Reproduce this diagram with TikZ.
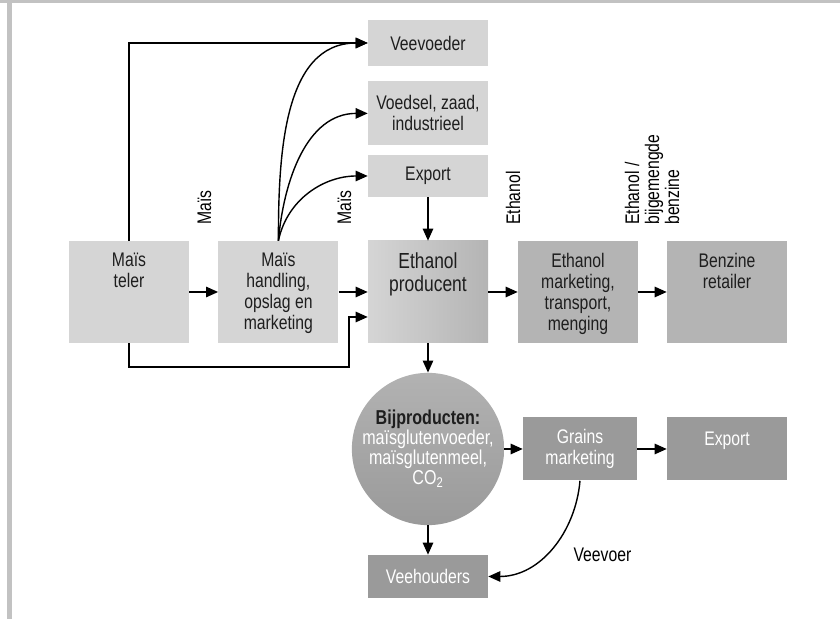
\documentclass[tikz,border=0pt]{standalone}
\usepackage{fontspec}
\setmainfont[FakeStretch=0.8]{Liberation Sans}
\usepackage{tikz}
\usetikzlibrary{arrows.meta,calc,positioning}
\definecolor{rand}{HTML}{C2C2C2}
\definecolor{licht}{HTML}{D5D5D5}
\definecolor{midden}{HTML}{B4B4B4}
\definecolor{donker}{HTML}{9A9A9A}
\definecolor{bolboven}{HTML}{B2B2B2}
\definecolor{tekst}{HTML}{1E1E1E}

\begin{document}
\begin{tikzpicture}[
  pijl/.style={line width=1pt, -{Triangle[length=3mm,width=2.6mm]}},
  basis/.style={rectangle, inner sep=0pt, minimum width=3cm, text=tekst, font=\fontsize{14}{14.9}\selectfont},
  blok/.style={basis, align=center, fill=licht},
  rij/.style={basis, minimum height=2.55cm,
    execute at begin node={\begin{minipage}[t][1.95cm][t]{3cm}\centering},
    execute at end node={\end{minipage}}},
  grijs/.style={basis, align=center, fill=donker, text=white, minimum height=1.575cm},
  stroom/.style={rotate=90, anchor=west, align=left, inner sep=0pt, font=\fontsize{14}{14.2}\selectfont}
]
% kader
\useasboundingbox (0,0) rectangle (21,15.475);
\fill[rand] (0,15.39) rectangle (21,15.475);
\fill[rand] (0.175,0) rectangle (0.3,15.475);

% afnemers bovenaan
\node[blok, minimum height=1.15cm] (veev) at (10.7,14.4) {Veevoeder};
\node[blok, minimum height=1.6cm] (voed) at (10.7,12.64) {Voedsel, zaad,\\industrieel};
\node[blok, minimum height=1.05cm] (expA) at (10.7,11.075) {Export};

% hoofdketen
\node[rij, fill=licht] (teler) at (3.225,8.175) {Maïs\\teler};
\node[rij, fill=licht] (handel) at (6.96,8.175) {Maïs\\handling,\\opslag en\\marketing};
\node[rij, left color=licht, right color=midden, font=\fontsize{15.5}{16}\selectfont] (prod) at (10.7,8.175) {Ethanol\\producent};
\node[rij, fill=midden] (emark) at (14.45,8.175) {Ethanol\\marketing,\\transport,\\menging};
\node[rij, fill=midden] (retail) at (18.175,8.175) {Benzine\\retailer};

% bijproducten
\node[circle, minimum size=3.8cm, inner sep=0pt, top color=bolboven, bottom color=donker, text=white, align=center, font=\fontsize{14.3}{14.2}\selectfont] (bijp) at (10.7,4.25) {{\color{tekst}\bfseries Bijproducten:}\\maïsglutenvoeder,\\maïsglutenmeel,\\CO\textsubscript{2}};
\node[grijs, minimum width=2.85cm] (grains) at (14.5,4.25) {Grains\\marketing};
\node[grijs] (expB) at (18.175,4.25) {Export\\\mbox{}};
\node[grijs, minimum height=1.075cm] (veeh) at (10.7,1.0625) {Veehouders};

% stromen
\node[stroom] (mais1) at (5.11,9.85) {Maïs};
\node[stroom] (mais2) at (8.61,9.85) {Maïs};
\node[stroom] (eth) at (12.83,9.85) {Ethanol};
\node[stroom] (mix) at (16.3,9.85) {Ethanol /\\bijgemengde\\benzine};
\node[font=\fontsize{14}{14}\selectfont, inner sep=0pt] (veevoer) at (15.06,1.6) {Veevoer};

\coordinate (lus) at (8.725,6.3);
\draw[pijl] (teler) -- (handel);
\draw[pijl] (handel) -- (prod);
\draw[pijl] (prod) -- (emark);
\draw[pijl] (emark) -- (retail);
\draw[pijl] (teler.north) |- (veev.west);
\draw[pijl] (teler.south) |- (lus) |- ([yshift=-6.25mm]prod.west);
\draw[pijl] (handel.north) to[out=90, in=180] (veev.west);
\draw[pijl] (handel.north) to[out=85, in=180] (voed.west);
\draw[pijl] (handel.north) to[out=78, in=180] (expA.west);
\draw[pijl] (expA) -- (prod);
\draw[pijl] (prod) -- (bijp);
\draw[pijl] (bijp) -- (grains);
\draw[pijl] (grains) -- (expB);
\draw[pijl] (bijp) -- (veeh);
\draw[pijl] (grains.south) to[out=-95, in=0] (veeh.east);
\end{tikzpicture}
\end{document}
